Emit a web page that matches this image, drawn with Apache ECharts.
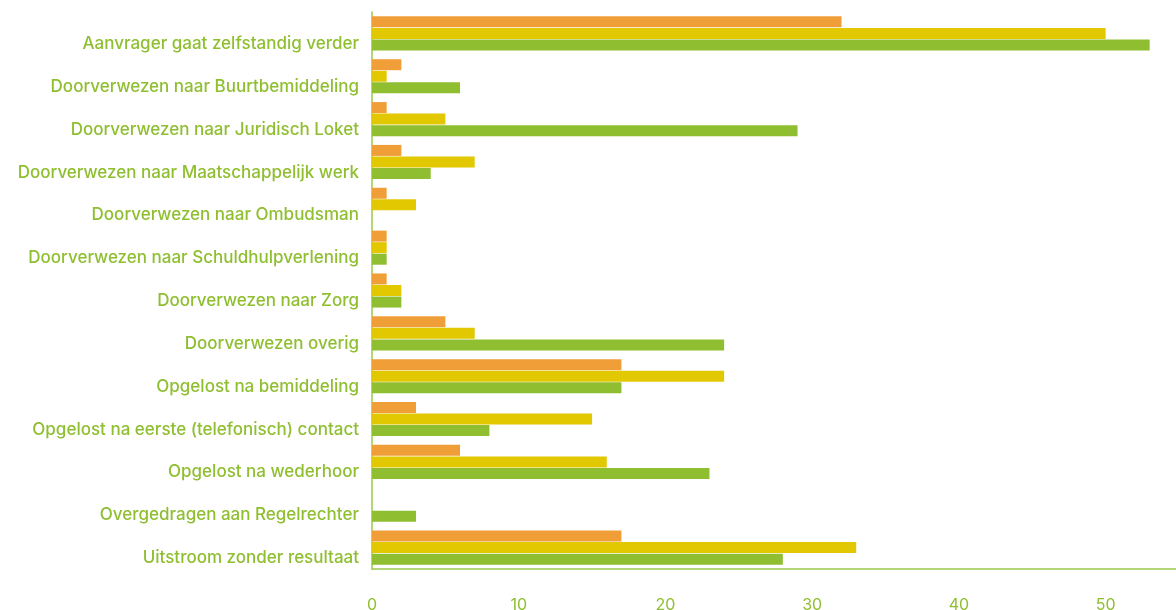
<!DOCTYPE html>
<html>
<head>
<meta charset="utf-8">
<script src="https://cdn.jsdelivr.net/npm/echarts@6/dist/echarts.min.js"></script>
<style>
html,body{margin:0;padding:0;background:#fff;}
#chart{width:1176px;height:610px;}
</style>
</head>
<body>
<div id="chart"></div>
<script>
const categories = [
  "Aanvrager gaat zelfstandig verder",
  "Doorverwezen naar Buurtbemiddeling",
  "Doorverwezen naar Juridisch Loket",
  "Doorverwezen naar Maatschappelijk werk",
  "Doorverwezen naar Ombudsman",
  "Doorverwezen naar Schuldhulpverlening",
  "Doorverwezen naar Zorg",
  "Doorverwezen overig",
  "Opgelost na bemiddeling",
  "Opgelost na eerste (telefonisch) contact",
  "Opgelost na wederhoor",
  "Overgedragen aan Regelrechter",
  "Uitstroom zonder resultaat"
];
const seriesOrange = [32, 2, 1, 2, 1, 1, 1, 5, 17, 3, 6, 0, 17];
const seriesYellow = [50, 1, 5, 7, 3, 1, 2, 7, 24, 15, 16, 0, 33];
const seriesGreen  = [53, 6, 29, 4, 0, 1, 2, 24, 17, 8, 23, 3, 28];
const xTicks = [0, 10, 20, 30, 40, 50];

const textColor = '#8fbf30';
const chart = echarts.init(document.getElementById('chart'), null, {renderer: 'canvas'});
chart.setOption({
  animation: false,
  grid: {left: 372, top: 12, bottom: 41, width: 807, outerBoundsMode: 'none', containLabel: false},
  xAxis: {
    type: 'value', min: 0, max: 55, interval: 10,
    axisLine: {show: true, lineStyle: {color: '#9cc84a', width: 1.5}},
    axisTick: {show: false},
    splitLine: {show: false},
    axisLabel: {
      color: textColor, fontFamily: 'Inter', fontSize: 16, margin: 28,
      hideOverlap: false,
      formatter: v => xTicks.includes(v) ? String(v) : ''
    }
  },
  yAxis: {
    type: 'category', data: categories, inverse: true,
    axisLine: {show: true, lineStyle: {color: '#9cc84a', width: 1.5}},
    axisTick: {show: false},
    axisLabel: {color: textColor, fontFamily: 'Inter', fontWeight: 500, fontSize: 17, margin: 13,
      verticalAlign: 'top', lineHeight: 21, interval: 0, hideOverlap: false}
  },
  series: [
    {type: 'bar', data: seriesOrange, itemStyle: {color: '#f09e38'}, barWidth: 11, barGap: '0%'},
    {type: 'bar', data: seriesYellow, itemStyle: {color: '#e2c800'}, barWidth: 11, barGap: '0%'},
    {type: 'bar', data: seriesGreen, itemStyle: {color: '#8fbe30'}, barWidth: 11, barGap: '5%'}
  ]
});
</script>
</body>
</html>
